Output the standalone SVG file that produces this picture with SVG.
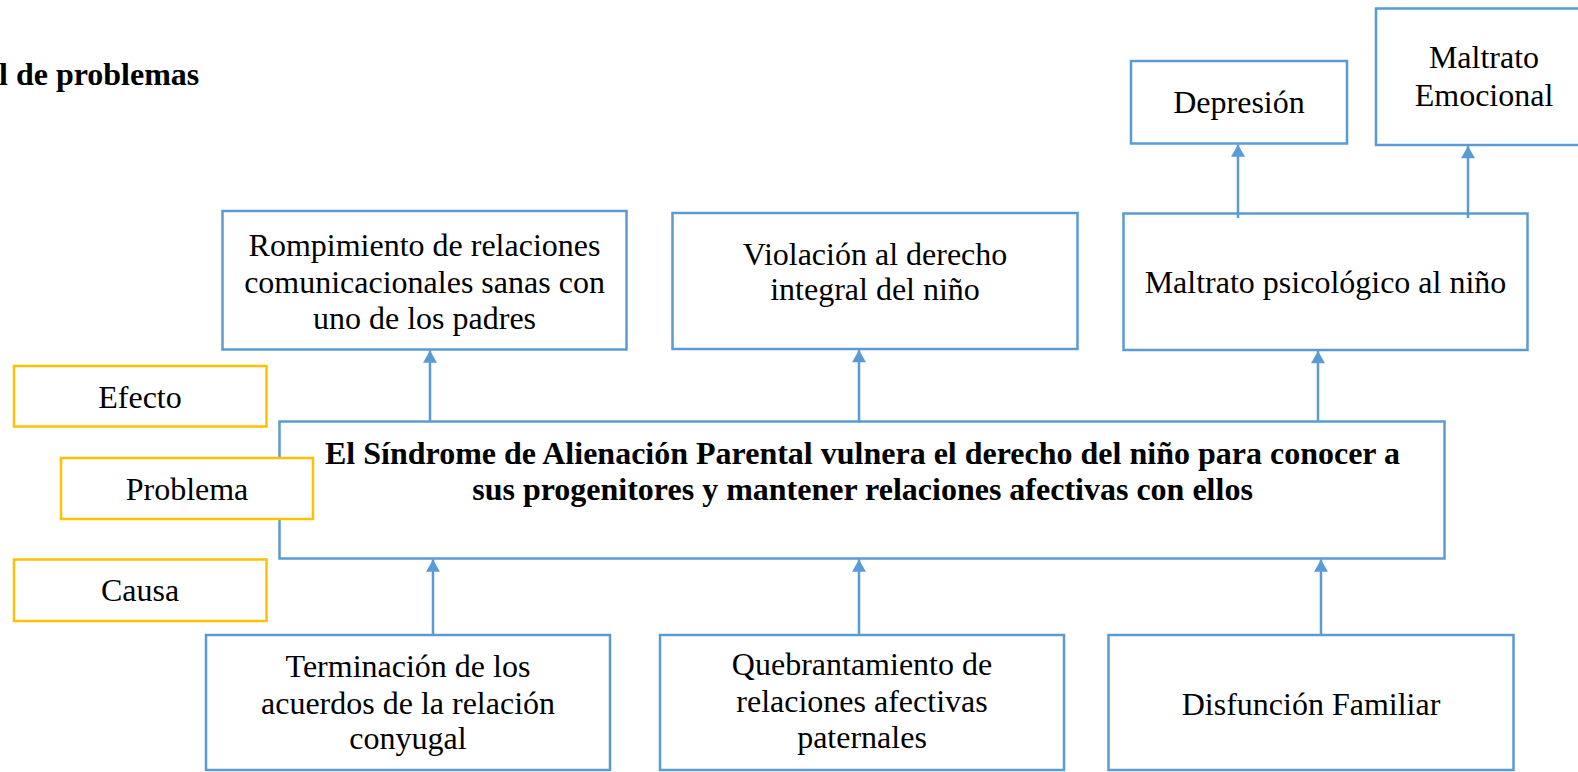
<svg xmlns="http://www.w3.org/2000/svg" width="1578" height="772" viewBox="0 0 1578 772">
<defs>
<style>
.b{fill:#fff;stroke:#5B9BD5;stroke-width:2.5}
.g{fill:#fff;stroke:#FFC000;stroke-width:2.5}
.t{font-family:"Liberation Serif","Times New Roman",serif;font-size:32px;fill:#000;text-anchor:middle}
.bold{font-weight:bold}
.c{stroke:#5B9BD5;stroke-width:2.5;fill:none;marker-end:url(#ah)}
</style>
<marker id="ah" markerUnits="userSpaceOnUse" markerWidth="15" markerHeight="14" refX="13" refY="7.5" orient="auto" viewBox="0 0 13 15">
<path d="M0,0 L13,7.5 L0,15 z" fill="#5B9BD5"/>
</marker>
</defs>
<rect width="1578" height="772" fill="#fff"/>
<text x="-1" y="85" class="t bold" style="text-anchor:start">l de problemas</text>

<g id="central">
<rect class="b" x="279.5" y="421.5" width="1165" height="137"/>
<text class="t bold" x="862.5" y="464">El Síndrome de Alienación Parental vulnera el derecho del niño para conocer a</text>
<text class="t bold" x="862.5" y="500">sus progenitores y mantener relaciones afectivas con ellos</text>
</g>

<g id="efecto">
<rect class="g" x="14" y="366" width="252.5" height="60.5"/>
<text class="t" x="140" y="408">Efecto</text>
</g>
<g id="problema">
<rect class="g" x="61" y="458" width="252" height="61"/>
<text class="t" x="187" y="500">Problema</text>
</g>
<g id="causa">
<rect class="g" x="14" y="559.5" width="252.5" height="61.5"/>
<text class="t" x="140" y="601">Causa</text>
</g>

<g id="rompimiento">
<rect class="b" x="222.5" y="211" width="404" height="138.5"/>
<text class="t" x="424.5" y="256">Rompimiento de relaciones</text>
<text class="t" x="424.5" y="293">comunicacionales sanas con</text>
<text class="t" x="424.5" y="329">uno de los padres</text>
</g>
<g id="violacion">
<rect class="b" x="672.5" y="213" width="405" height="136"/>
<text class="t" x="875" y="265">Violación al derecho</text>
<text class="t" x="875" y="300">integral del niño</text>
</g>
<g id="maltrato-psicologico">
<rect class="b" x="1123.5" y="213.5" width="404" height="136.5"/>
<text class="t" x="1325.5" y="293">Maltrato psicológico al niño</text>
</g>
<g id="depresion">
<rect class="b" x="1131" y="61" width="216" height="82.5"/>
<text class="t" x="1239" y="113">Depresión</text>
</g>
<g id="maltrato-emocional">
<rect class="b" x="1376" y="8.5" width="216" height="136.5"/>
<text class="t" x="1484" y="68">Maltrato</text>
<text class="t" x="1484" y="106">Emocional</text>
</g>

<g id="terminacion">
<rect class="b" x="206" y="635" width="404" height="135"/>
<text class="t" x="408" y="677">Terminación de los</text>
<text class="t" x="408" y="714">acuerdos de la relación</text>
<text class="t" x="408" y="749">conyugal</text>
</g>
<g id="quebrantamiento">
<rect class="b" x="660" y="635" width="404" height="135"/>
<text class="t" x="862" y="675">Quebrantamiento de</text>
<text class="t" x="862" y="712">relaciones afectivas</text>
<text class="t" x="862" y="748">paternales</text>
</g>
<g id="disfuncion">
<rect class="b" x="1108.5" y="635" width="405" height="135"/>
<text class="t" x="1311" y="715">Disfunción Familiar</text>
</g>

<g id="connectors">
<line class="c" x1="430" y1="421.5" x2="430" y2="350.5"/>
<line class="c" x1="859" y1="421.5" x2="859" y2="350"/>
<line class="c" x1="1318" y1="421.5" x2="1318" y2="351"/>
<line class="c" x1="1238" y1="218" x2="1238" y2="144.5"/>
<line class="c" x1="1468" y1="218" x2="1468" y2="146"/>
<line class="c" x1="433" y1="635" x2="433" y2="559.5"/>
<line class="c" x1="859" y1="635" x2="859" y2="559.5"/>
<line class="c" x1="1321" y1="635" x2="1321" y2="559.5"/>
</g>
</svg>
